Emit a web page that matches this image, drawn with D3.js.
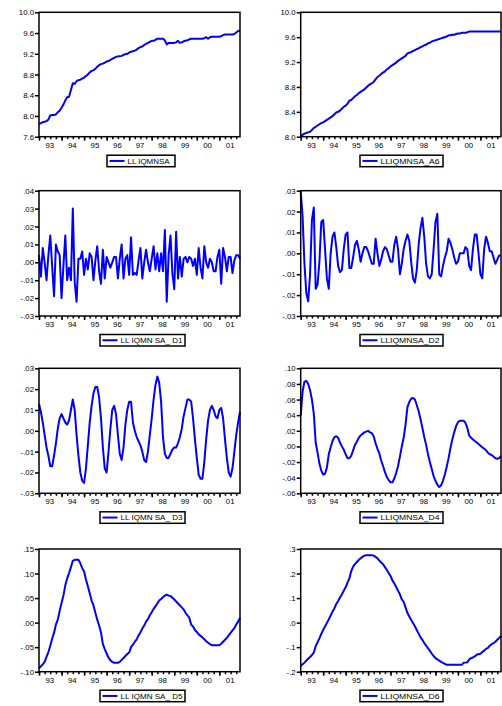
<!DOCTYPE html>
<html>
<head>
<meta charset="utf-8">
<script src="https://cdn.jsdelivr.net/npm/d3@7/dist/d3.min.js"></script>
<style>
  body { margin: 0; background: #fff; }
  svg { display: block; }
  text { font-family: "Liberation Sans", Arial, sans-serif; }
</style>
</head>
<body>
<div class="App"></div>
<script>
// monthly data, 1993:01 - 2001:12
let yearLabels = ["93", "94", "95", "96", "97", "98", "99", "00", "01"];

let lliqmnsa = [
  7.85, 7.86, 7.88, 7.89, 7.90, 7.93, 8.01, 8.02, 8.02, 8.03, 8.07, 8.10,
  8.16, 8.22, 8.30, 8.36, 8.37, 8.50, 8.63, 8.62, 8.67, 8.69, 8.70, 8.72,
  8.74, 8.77, 8.80, 8.84, 8.87, 8.88, 8.91, 8.95, 8.98, 9.00, 9.01, 9.03,
  9.05, 9.06, 9.08, 9.10, 9.12, 9.14, 9.15, 9.15, 9.16, 9.18, 9.19, 9.20,
  9.22, 9.24, 9.25, 9.26, 9.28, 9.31, 9.33, 9.34, 9.37, 9.39, 9.41, 9.43,
  9.45, 9.45, 9.47, 9.49, 9.49, 9.49, 9.49, 9.46, 9.38, 9.41, 9.41, 9.41,
  9.41, 9.42, 9.45, 9.41, 9.42, 9.44, 9.45, 9.46, 9.48, 9.49, 9.49, 9.49,
  9.49, 9.49, 9.49, 9.49, 9.50, 9.52, 9.49, 9.52, 9.53, 9.53, 9.53, 9.53,
  9.53, 9.54, 9.56, 9.57, 9.57, 9.57, 9.57, 9.57, 9.58, 9.61, 9.64, 9.65
];

let lliqmnsaA6 = [
  8.01, 8.03, 8.05, 8.06, 8.07, 8.08, 8.11, 8.14, 8.16, 8.18, 8.20, 8.22,
  8.23, 8.25, 8.27, 8.29, 8.31, 8.33, 8.36, 8.39, 8.40, 8.42, 8.45, 8.48,
  8.50, 8.53, 8.58, 8.59, 8.62, 8.65, 8.67, 8.70, 8.72, 8.74, 8.76, 8.79,
  8.82, 8.84, 8.86, 8.88, 8.92, 8.96, 8.98, 9.01, 9.03, 9.05, 9.08, 9.10,
  9.13, 9.15, 9.17, 9.19, 9.22, 9.24, 9.26, 9.28, 9.30, 9.34, 9.35, 9.36,
  9.38, 9.39, 9.41, 9.42, 9.44, 9.45, 9.47, 9.48, 9.50, 9.51, 9.53, 9.54,
  9.55, 9.56, 9.57, 9.58, 9.59, 9.60, 9.61, 9.63, 9.63, 9.64, 9.64, 9.65,
  9.66, 9.66, 9.67, 9.67, 9.67, 9.68, 9.69, 9.69, 9.69, 9.69, 9.69, 9.69,
  9.69, 9.69, 9.69, 9.69, 9.69, 9.69, 9.69, 9.69, 9.69, 9.69, 9.69, 9.69
];

let lliqmnsaD1 = [
  0.004, -0.008, 0.008, 0.000, -0.010, 0.004, 0.015, -0.002, -0.019, 0.010, 0.006, 0.004,
  -0.020, -0.002, 0.015, -0.010, -0.003, -0.010, 0.030, -0.011, -0.022, 0.002, 0.002, 0.006,
  -0.007, 0.002, -0.004, 0.005, 0.003, -0.010, 0.001, 0.009, -0.005, -0.012, 0.007, -0.009,
  0.003, 0.000, -0.003, 0.000, 0.003, 0.003, -0.009, 0.002, 0.010, -0.009, 0.002, 0.004,
  -0.007, 0.014, -0.007, -0.006, -0.007, 0.001, 0.008, -0.009, 0.000, 0.007, 0.000, -0.005,
  0.002, 0.009, -0.004, 0.005, -0.005, 0.005, -0.005, 0.018, -0.022, 0.004, 0.015, -0.006,
  -0.015, 0.017, -0.009, 0.003, -0.008, 0.002, 0.003, 0.000, 0.003, 0.002, -0.002, 0.002,
  -0.007, 0.008, -0.003, -0.009, 0.009, 0.000, -0.003, 0.002, 0.000, -0.005, -0.005, 0.003,
  0.007, -0.012, 0.008, 0.003, -0.005, 0.003, 0.003, -0.006, 0.001, 0.004, 0.004, 0.002
];

let lliqmnsaD2 = [
  0.030, 0.018, -0.005, -0.019, -0.023, -0.010, 0.016, 0.022, -0.017, -0.015, -0.004, 0.015,
  0.016, 0.002, -0.012, -0.017, 0.000, 0.008, 0.010, 0.003, -0.006, -0.009, -0.008, 0.002,
  0.009, 0.010, -0.007, -0.007, -0.002, 0.004, 0.006, 0.002, -0.004, 0.000, 0.003, 0.003,
  0.001, -0.002, -0.005, -0.005, 0.007, 0.000, -0.006, -0.003, 0.001, 0.003, 0.002, -0.001,
  -0.004, -0.004, 0.004, 0.008, 0.002, -0.010, -0.005, 0.002, 0.006, 0.009, 0.006, -0.004,
  -0.012, -0.014, -0.008, 0.004, 0.012, 0.017, 0.008, -0.005, -0.011, -0.012, -0.010, 0.002,
  0.015, 0.019, -0.010, -0.011, -0.006, -0.002, 0.001, 0.007, 0.005, 0.002, -0.002, -0.005,
  -0.004, 0.000, 0.000, 0.000, 0.003, 0.002, -0.006, -0.008, 0.002, 0.009, 0.009, 0.000,
  -0.010, -0.012, 0.002, 0.008, 0.005, 0.001, 0.001, -0.002, -0.005, -0.003, -0.001, -0.001
];

let lliqmnsaD3 = [
  0.013, 0.009, 0.004, -0.002, -0.008, -0.012, -0.017, -0.017, -0.012, -0.006, 0.001, 0.006,
  0.008, 0.006, 0.004, 0.003, 0.005, 0.010, 0.015, 0.010, -0.002, -0.012, -0.020, -0.024,
  -0.025, -0.018, -0.007, 0.004, 0.012, 0.018, 0.021, 0.021, 0.016, 0.006, -0.008, -0.018,
  -0.020, -0.010, 0.001, 0.010, 0.012, 0.008, -0.002, -0.011, -0.014, -0.008, 0.003, 0.010,
  0.014, 0.014, 0.004, 0.000, -0.003, -0.005, -0.007, -0.010, -0.014, -0.015, -0.010, -0.002,
  0.006, 0.015, 0.022, 0.026, 0.023, 0.014, -0.003, -0.011, -0.013, -0.013, -0.011, -0.009,
  -0.008, -0.008, -0.006, -0.003, 0.001, 0.007, 0.011, 0.015, 0.015, 0.014, 0.006, -0.004,
  -0.013, -0.021, -0.023, -0.023, -0.015, -0.004, 0.005, 0.010, 0.012, 0.010, 0.007, 0.006,
  0.010, 0.011, 0.006, -0.004, -0.013, -0.020, -0.022, -0.018, -0.010, -0.002, 0.004, 0.009
];

let lliqmnsaD4 = [
  0.039, 0.070, 0.083, 0.084, 0.080, 0.072, 0.060, 0.042, 0.005, -0.008, -0.022, -0.031,
  -0.036, -0.035, -0.027, -0.010, -0.001, 0.007, 0.012, 0.013, 0.011, 0.005, 0.000, -0.004,
  -0.010, -0.015, -0.015, -0.012, -0.005, 0.002, 0.006, 0.011, 0.014, 0.016, 0.018, 0.019,
  0.020, 0.018, 0.017, 0.013, 0.004, -0.003, -0.009, -0.018, -0.025, -0.033, -0.039, -0.043,
  -0.046, -0.046, -0.041, -0.034, -0.025, -0.013, 0.000, 0.011, 0.028, 0.050, 0.057, 0.061,
  0.062, 0.060, 0.053, 0.045, 0.035, 0.024, 0.012, 0.002, -0.010, -0.020, -0.029, -0.038,
  -0.044, -0.049, -0.052, -0.050, -0.044, -0.036, -0.026, -0.015, -0.002, 0.009, 0.018, 0.026,
  0.031, 0.033, 0.033, 0.033, 0.030, 0.024, 0.014, 0.011, 0.009, 0.007, 0.005, 0.003,
  0.001, -0.001, -0.003, -0.005, -0.008, -0.010, -0.011, -0.013, -0.015, -0.016, -0.015, -0.012
];

let lliqmnsaD5 = [
  -0.093, -0.089, -0.085, -0.080, -0.070, -0.060, -0.047, -0.033, -0.021, -0.004, 0.006, 0.024,
  0.040, 0.055, 0.076, 0.090, 0.101, 0.113, 0.126, 0.128, 0.128, 0.128, 0.121, 0.111,
  0.104, 0.088, 0.074, 0.060, 0.045, 0.035, 0.020, 0.006, -0.006, -0.020, -0.044, -0.054,
  -0.063, -0.071, -0.077, -0.080, -0.082, -0.082, -0.082, -0.080, -0.076, -0.072, -0.068, -0.064,
  -0.061, -0.050, -0.045, -0.039, -0.034, -0.026, -0.020, -0.012, -0.006, 0.002, 0.007, 0.015,
  0.021, 0.028, 0.033, 0.039, 0.045, 0.048, 0.052, 0.055, 0.057, 0.055, 0.054, 0.051,
  0.047, 0.043, 0.039, 0.035, 0.031, 0.027, 0.020, 0.015, 0.010, -0.004, -0.008, -0.015,
  -0.019, -0.024, -0.027, -0.030, -0.034, -0.038, -0.041, -0.044, -0.046, -0.046, -0.046, -0.046,
  -0.046, -0.043, -0.039, -0.035, -0.031, -0.026, -0.021, -0.016, -0.011, -0.004, 0.002, 0.010
];

let lliqmnsaD6 = [
  -0.177, -0.170, -0.163, -0.155, -0.147, -0.140, -0.132, -0.122, -0.096, -0.080, -0.064, -0.046,
  -0.030, -0.016, -0.001, 0.013, 0.029, 0.045, 0.058, 0.076, 0.088, 0.102, 0.115, 0.130,
  0.144, 0.163, 0.180, 0.210, 0.228, 0.238, 0.247, 0.255, 0.262, 0.268, 0.273, 0.275,
  0.275, 0.275, 0.275, 0.273, 0.268, 0.262, 0.253, 0.245, 0.238, 0.226, 0.215, 0.202,
  0.190, 0.172, 0.160, 0.145, 0.130, 0.115, 0.095, 0.085, 0.062, 0.040, 0.025, 0.012,
  -0.002, -0.015, -0.030, -0.045, -0.060, -0.070, -0.083, -0.094, -0.104, -0.115, -0.126, -0.136,
  -0.145, -0.150, -0.155, -0.160, -0.164, -0.168, -0.172, -0.172, -0.172, -0.172, -0.172, -0.172,
  -0.172, -0.172, -0.172, -0.164, -0.163, -0.162, -0.150, -0.145, -0.142, -0.138, -0.131, -0.129,
  -0.127, -0.120, -0.114, -0.107, -0.103, -0.094, -0.088, -0.084, -0.078, -0.070, -0.063, -0.054
];

// y tick values for each panel
let ticksLevel = [7.6, 8.0, 8.4, 8.8, 9.2, 9.6, 10.0];
let ticksA6 = [8.0, 8.4, 8.8, 9.2, 9.6, 10.0];
let ticksD1 = [-0.03, -0.02, -0.01, 0, 0.01, 0.02, 0.03, 0.04];
let ticksD2 = [-0.03, -0.02, -0.01, 0, 0.01, 0.02, 0.03];
let ticksD3 = [-0.03, -0.02, -0.01, 0, 0.01, 0.02, 0.03];
let ticksD4 = [-0.06, -0.04, -0.02, 0, 0.02, 0.04, 0.06, 0.08, 0.10];
let ticksD5 = [-0.10, -0.05, 0, 0.05, 0.10, 0.15];
let ticksD6 = [-0.2, -0.1, 0, 0.1, 0.2, 0.3];

let seriesNames = [
  "LL IQMNSA", "LLIQMNSA_A6",
  "LL IQMN SA_ D1", "LLIQMNSA_D2",
  "LL IQMN SA_ D3", "LLIQMNSA_D4",
  "LL IQMN SA_ D5", "LLIQMNSA_D6"
];

let svgWidth = 502;
let svgHeight = 706;
let fontSize = 7.8;

let svg = d3
  .select("div.App")
  .append("svg")
  .attr("width", svgWidth)
  .attr("height", svgHeight);

// EViews style: no leading zero, plain hyphen for minus
let noLeadZero = (digits) => {
  return (d) => {
    let s = Math.abs(d).toFixed(digits);
    let neg = d < 0 && +s !== 0;
    return (neg ? "-" : "") + s.replace(/^0\./, ".");
  };
};
let oneDecimal = (d) => d.toFixed(1);

let cols = [
  { x0: 39, x1: 240, legX0: 100, legX1: 185, textW: 62 },
  { x0: 300.7, x1: 501, legX0: 360, legX1: 443, textW: 59 },
];
let rows = [
  { y0: 12.3, y1: 136.7 },
  { y0: 190.7, y1: 316 },
  { y0: 368.3, y1: 493.3 },
  { y0: 549, y1: 671.7 },
];

let panels = [
  { values: lliqmnsa, ticks: ticksLevel, fmt: oneDecimal },
  { values: lliqmnsaA6, ticks: ticksA6, fmt: oneDecimal },
  { values: lliqmnsaD1, ticks: ticksD1, fmt: noLeadZero(2) },
  { values: lliqmnsaD2, ticks: ticksD2, fmt: noLeadZero(2) },
  { values: lliqmnsaD3, ticks: ticksD3, fmt: noLeadZero(2) },
  { values: lliqmnsaD4, ticks: ticksD4, fmt: noLeadZero(2) },
  { values: lliqmnsaD5, ticks: ticksD5, fmt: noLeadZero(2) },
  { values: lliqmnsaD6, ticks: ticksD6, fmt: noLeadZero(1) },
];

let styleAxis = (g) => {
  g.select(".domain").remove();
  g.selectAll("line").attr("stroke", "black").attr("stroke-width", 1.5);
  g.selectAll("text")
    .attr("fill", "black")
    .style("font-size", fontSize + "px");
};

let drawPanel = (p, k) => {
  let col = cols[k % 2];
  let row = rows[Math.floor(k / 2)];
  let n = p.values.length;

  let xScale = d3.scaleLinear().domain([0, n - 1]).range([col.x0, col.x1]);
  let yScale = d3
    .scaleLinear()
    .domain([p.ticks[0], p.ticks[p.ticks.length - 1]])
    .range([row.y1, row.y0]);

  let g = svg.append("g");

  // y axis
  g.append("g")
    .attr("transform", "translate(" + col.x0 + ",0)")
    .call(d3.axisLeft(yScale).tickValues(p.ticks).tickSize(4).tickPadding(1).tickFormat(p.fmt))
    .call(styleAxis);

  // x axis: quarter ticks, year ticks, year labels
  g.append("g")
    .attr("transform", "translate(0," + row.y1 + ")")
    .call(d3.axisBottom(xScale).tickValues(d3.range(0, n, 3)).tickSize(2.5).tickFormat(""))
    .call(styleAxis);
  g.append("g")
    .attr("transform", "translate(0," + row.y1 + ")")
    .call(d3.axisBottom(xScale).tickValues(d3.range(0, n, 12)).tickSize(4).tickFormat(""))
    .call(styleAxis);
  g.append("g")
    .attr("transform", "translate(0," + row.y1 + ")")
    .call(
      d3.axisBottom(xScale)
        .tickValues(yearLabels.map((d, i) => i * 12 + 5.5))
        .tickSize(0)
        .tickPadding(5.5)
        .tickFormat((d, i) => yearLabels[i])
    )
    .call(styleAxis);

  // series
  let line = d3
    .line()
    .x((d, i) => xScale(i))
    .y((d) => yScale(d));

  g.append("path")
    .attr("fill", "none")
    .attr("stroke", "#0000ff")
    .attr("stroke-width", 2)
    .attr("stroke-linejoin", "round")
    .attr("d", line(p.values));

  // frame
  g.append("rect")
    .attr("x", col.x0)
    .attr("y", row.y0)
    .attr("width", col.x1 - col.x0)
    .attr("height", row.y1 - row.y0)
    .attr("fill", "none")
    .attr("stroke", "black")
    .attr("stroke-width", 1.5);

  // legend
  let lx0 = col.legX0;
  let lx1 = col.legX1;
  let tw = col.textW;
  if (k === 0) {
    lx0 = 107;
    lx1 = 175;
    tw = 42;
  }
  let ly = row.y1 + 18.5;
  let lh = 11.5;
  g.append("rect")
    .attr("x", lx0)
    .attr("y", ly)
    .attr("width", lx1 - lx0)
    .attr("height", lh)
    .attr("fill", "white")
    .attr("stroke", "black")
    .attr("stroke-width", 1.5);
  g.append("line")
    .attr("x1", lx0 + 2.5)
    .attr("x2", lx0 + 17.5)
    .attr("y1", ly + lh / 2)
    .attr("y2", ly + lh / 2)
    .attr("stroke", "#0000ff")
    .attr("stroke-width", 2);
  g.append("text")
    .text(seriesNames[k])
    .attr("x", lx0 + 20.5)
    .attr("y", ly + lh / 2 + 2.8)
    .attr("textLength", tw)
    .attr("lengthAdjust", "spacingAndGlyphs")
    .style("font-size", fontSize + "px");
};

panels.forEach((p, k) => drawPanel(p, k));
</script>
</body>
</html>
